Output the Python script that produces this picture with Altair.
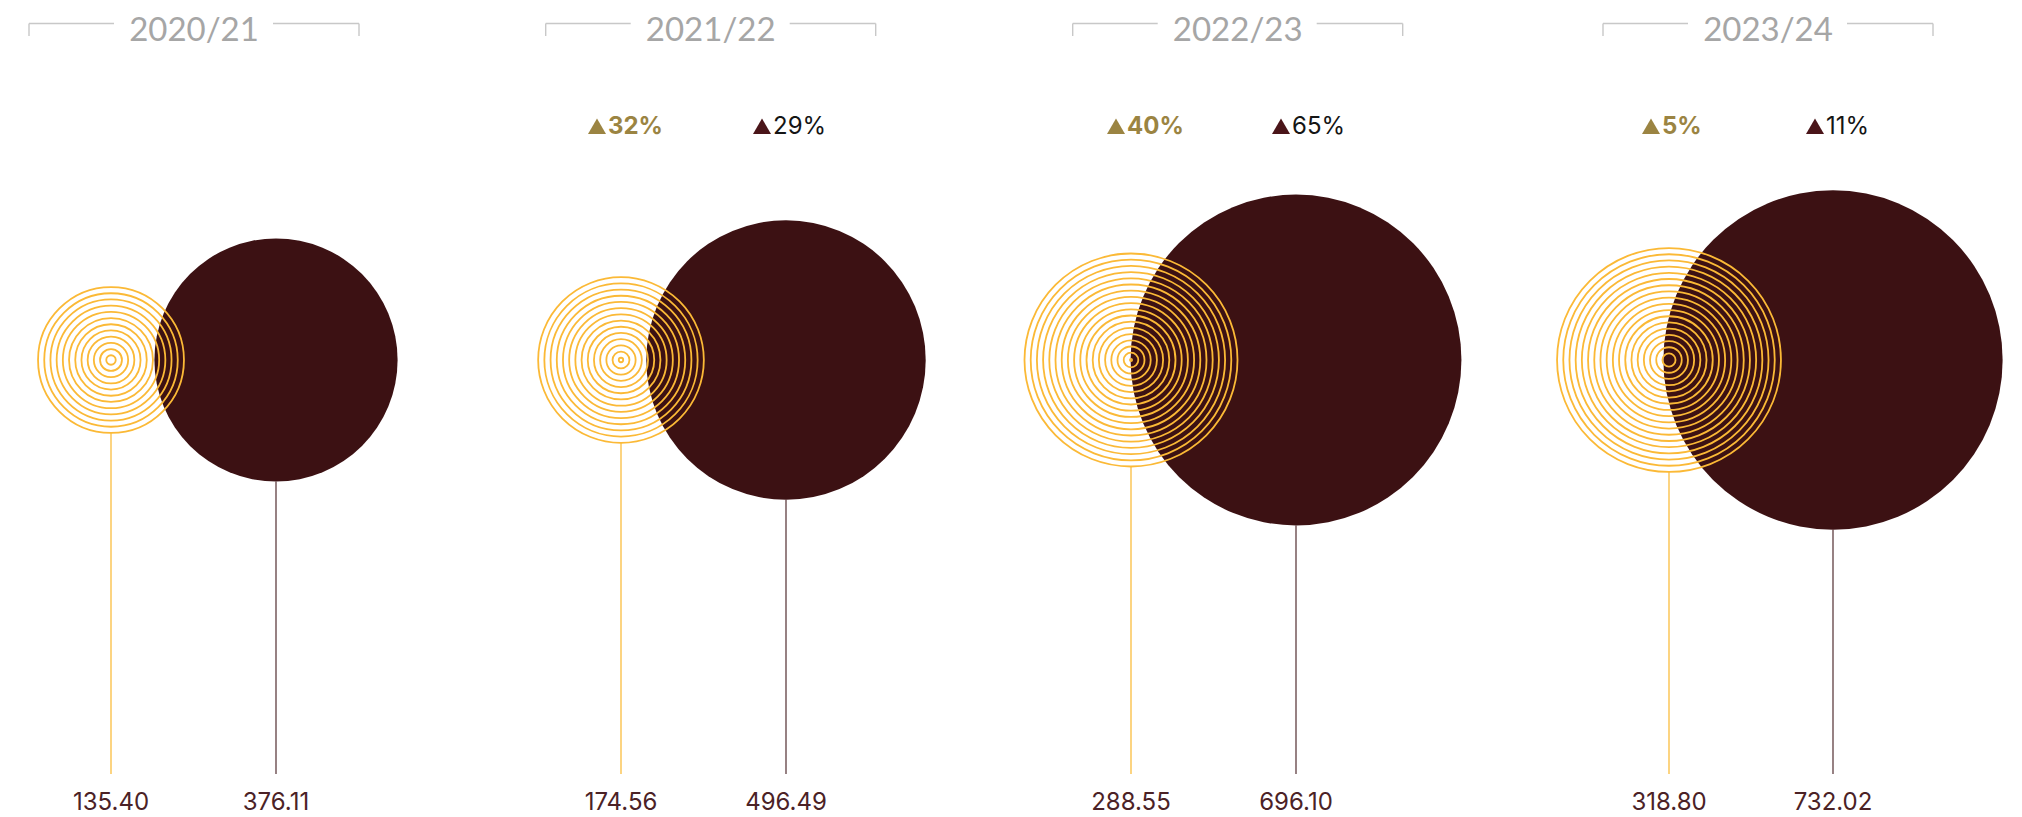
import math
import altair as alt
import pandas as pd

# ---------------- data ----------------
years = ["2020/21", "2021/22", "2022/23", "2023/24"]
gold_values = [135.40, 174.56, 288.55, 318.80]
dark_values = [376.11, 496.49, 696.10, 732.02]
gold_change = ["", "32%", "40%", "5%"]
dark_change = ["", "29%", "65%", "11%"]

# ---------------- styling / layout ----------------
PX_PER_SQRT = 6.27          # circle radius (px) per sqrt(value)
RING_STEP = 6.2             # spacing of the concentric rings (px)
CY = 352                    # circle centre row
STEM_END = 766
panel_widths = [462, 505, 535, 497]
gold_x = [103, 151, 156, 159]
dark_x = [268, 316, 321, 323]
bracket_left = [21, 75.7, 97.7, 93]
label_off = [0, -33, -24, -27]

GOLD_RING = "#fbb936"
GOLD_STEM = "#fcca62"
DARK_FILL = "#3c1113"
DARK_STEM = "#7d6265"
GOLD_TEXT = "#9b8442"
DARK_TRI = "#4a1519"
LABEL_COL = "#4b2226"
TITLE_COL = "#a6a6a6"
BRACKET_COL = "#c8c8c8"

VMAX = 1000.0
# Vega symbol size = (2r)^2
size_scale = alt.Scale(type="linear", domain=[0, VMAX],
                       range=[0, 4 * PX_PER_SQRT ** 2 * VMAX])
y_scale = alt.Scale(type="sqrt", domain=[0, VMAX], nice=False,
                    range=[CY, CY + PX_PER_SQRT * math.sqrt(VMAX)])


def panel(i):
    rows = pd.DataFrame({
        "year": [years[i], years[i]],
        "series": ["gold", "dark"],
        "v": [gold_values[i], dark_values[i]],
        "label": [f"{gold_values[i]:.2f}", f"{dark_values[i]:.2f}"],
        "change": [gold_change[i], dark_change[i]],
    })
    # concentric rings derived from the gold value
    R = PX_PER_SQRT * math.sqrt(gold_values[i])
    ring_rows = []
    k = 0
    while R - k * RING_STEP > 1.0:
        r = R - k * RING_STEP
        ring_rows.append({"series": "gold", "v": (r / PX_PER_SQRT) ** 2})
        k += 1
    rings = pd.DataFrame(ring_rows)

    xs = alt.Scale(type="point", domain=["gold", "dark"],
                   range=[gold_x[i], dark_x[i]], padding=0)
    X = alt.X("series:N", scale=xs, axis=None)
    gold_rows = rows[rows.series == "gold"]
    dark_rows = rows[rows.series == "dark"]

    layers = []
    layers.append(alt.Chart(gold_rows).mark_rule(color=GOLD_STEM, strokeWidth=1.6).encode(
        x=X, y=alt.Y("v:Q", scale=y_scale, axis=None), y2=alt.value(STEM_END)))
    layers.append(alt.Chart(dark_rows).mark_rule(color=DARK_STEM, strokeWidth=1.6).encode(
        x=X, y=alt.Y("v:Q", scale=y_scale, axis=None), y2=alt.value(STEM_END)))
    layers.append(alt.Chart(dark_rows).mark_circle(color=DARK_FILL, opacity=1).encode(
        x=X, y=alt.value(CY), size=alt.Size("v:Q", scale=size_scale, legend=None)))
    layers.append(alt.Chart(rings).mark_point(shape="circle", filled=False, stroke=GOLD_RING,
                                              strokeWidth=1.8, opacity=1).encode(
        x=X, y=alt.value(CY), size=alt.Size("v:Q", scale=size_scale, legend=None)))
    layers.append(alt.Chart(rows).mark_text(font="Inter", fontSize=24, color=LABEL_COL,
                                            baseline="alphabetic").encode(
        x=X, y=alt.value(802), text="label:N"))

    if gold_change[i]:
        off = label_off[i]
        layers.append(alt.Chart(gold_rows).mark_point(shape="triangle-up", filled=True, size=324,
                                                      color=GOLD_TEXT, opacity=1, xOffset=off + 9).encode(
            x=X, y=alt.value(118.2)))
        layers.append(alt.Chart(dark_rows).mark_point(shape="triangle-up", filled=True, size=324,
                                                      color=DARK_TRI, opacity=1, xOffset=off + 9).encode(
            x=X, y=alt.value(118.2)))
        layers.append(alt.Chart(gold_rows).mark_text(font="Inter", fontSize=24, fontWeight="bold",
                                                     color=GOLD_TEXT, align="left", baseline="alphabetic",
                                                     dx=off + 20).encode(
            x=X, y=alt.value(126), text="change:N"))
        layers.append(alt.Chart(dark_rows).mark_text(font="Inter", fontSize=24, color="#151515",
                                                     align="left", baseline="alphabetic",
                                                     dx=off + 20).encode(
            x=X, y=alt.value(126), text="change:N"))

    L = bracket_left[i]
    yb = 15.5
    br = alt.Chart(gold_rows)
    layers.append(br.mark_rule(color=BRACKET_COL, strokeWidth=1.4).encode(
        x=alt.value(L), x2=alt.value(L + 85), y=alt.value(yb)))
    layers.append(br.mark_rule(color=BRACKET_COL, strokeWidth=1.4).encode(
        x=alt.value(L + 244), x2=alt.value(L + 330), y=alt.value(yb)))
    layers.append(br.mark_rule(color=BRACKET_COL, strokeWidth=1.4).encode(
        x=alt.value(L), y=alt.value(yb), y2=alt.value(28)))
    layers.append(br.mark_rule(color=BRACKET_COL, strokeWidth=1.4).encode(
        x=alt.value(L + 330), y=alt.value(yb), y2=alt.value(28)))
    layers.append(br.mark_text(font="Lato", fontSize=33, color=TITLE_COL, align="center",
                               baseline="alphabetic").encode(
        x=alt.value(L + 165), y=alt.value(33), text="year:N"))

    return alt.layer(*layers).properties(width=panel_widths[i], height=800)


chart = alt.hconcat(*[panel(i) for i in range(4)], spacing=0, bounds="flush").resolve_scale(
    x="independent", y="independent", size="independent"
).configure_view(stroke=None).properties(padding=0, background="white")

chart.save("out.html", embed_options={"renderer": "svg", "actions": False})
